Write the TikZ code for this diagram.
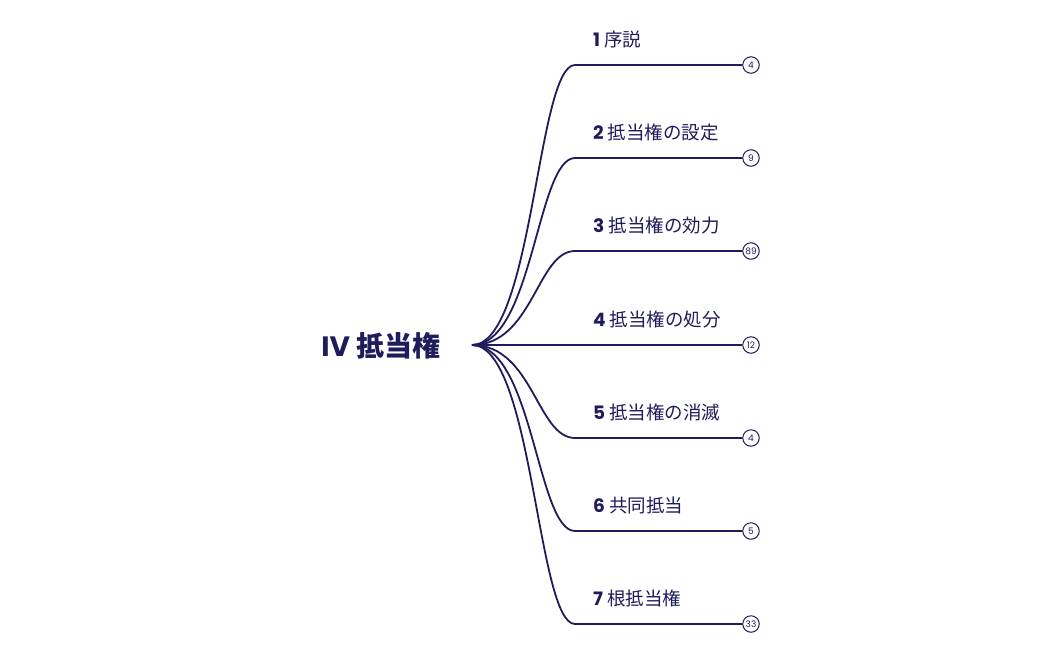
\documentclass[tikz,border=0pt]{standalone}
\usepackage{fontspec}
\setmainfont{Noto Sans CJK JP}
\newfontfamily\pop{Poppins}
\definecolor{navy}{HTML}{1F1C5C}
\begin{document}
\begin{tikzpicture}[x=1pt,y=-1pt,
  edge/.style={draw=navy,line width=1.8pt},
  lbl/.style={anchor=base west,inner sep=0pt,text=navy,font=\fontsize{18.5}{21}\selectfont},
  cnt/.style={circle,draw=navy,line width=1pt,fill=white,minimum size=16.5pt,inner sep=0pt,text=navy,font=\pop\fontsize{9}{10}\selectfont},
  rootlbl/.style={anchor=center,inner sep=0pt,text=navy,font=\bfseries\fontsize{28}{32}\selectfont}]
\useasboundingbox (0,0) rectangle (1050,649);
\node[rootlbl] (root) at (381,346) {{\pop\bfseries IV} 抵当権};
\coordinate (r) at (472,345);
\foreach \i/\y/\t/\n in {1/65/序説/4, 2/158/抵当権の設定/9, 3/251/抵当権の効力/89, 4/345/抵当権の処分/12, 5/438/抵当権の消滅/4, 6/531/共同抵当/5, 7/624/根抵当権/33}{
  \coordinate (b\i) at (575,\y);
  \node[cnt] (c\i) at (751,\y) {\n};
  \node[lbl] (l\i) at (593,\y-19) {{\pop\bfseries\i} \t};
  \draw[edge] (r) .. controls (533,345) and (537,\y) .. (b\i) -- (c\i);
}
\end{tikzpicture}
\end{document}
